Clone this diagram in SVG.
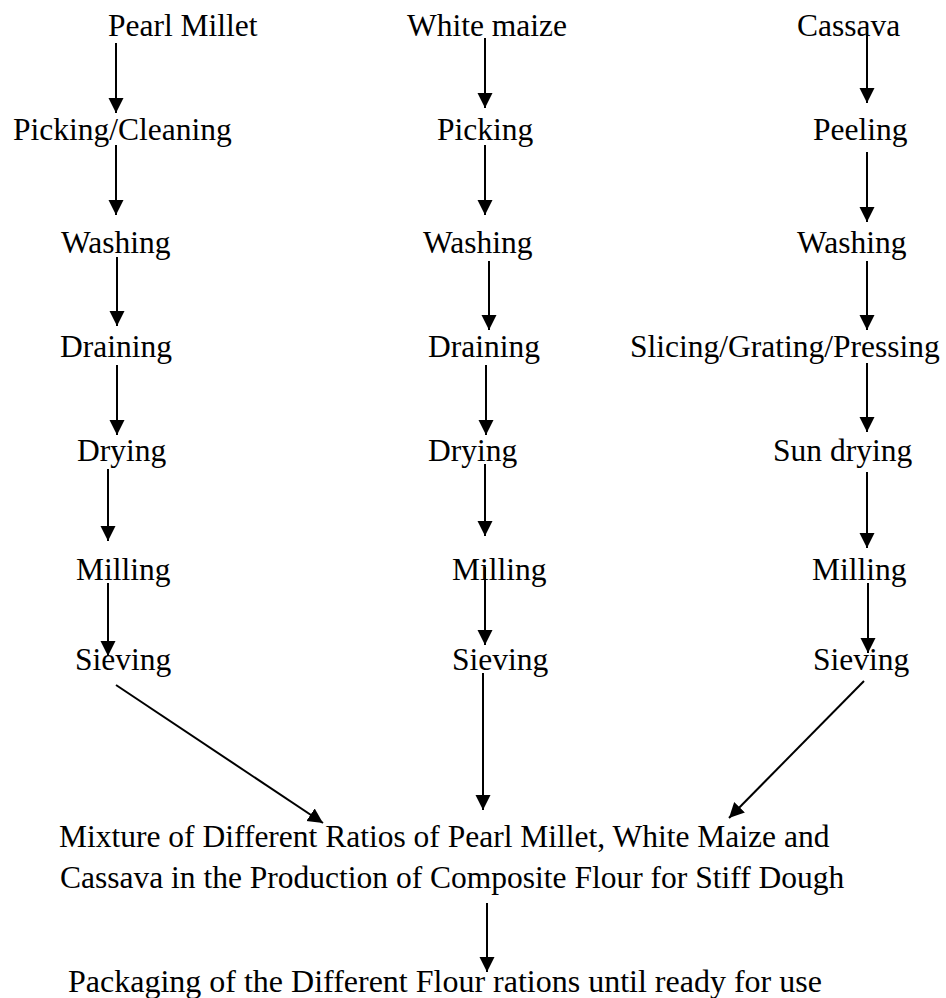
<svg xmlns="http://www.w3.org/2000/svg" width="946" height="998" viewBox="0 0 946 998">
<style>
text{font-family:"Liberation Serif","Times New Roman",serif;font-size:31.5px;fill:#000}
.big{font-size:32px}
.c line{stroke:#000;stroke-width:2;marker-end:url(#ah)}
</style>
<defs>
<marker id="ah" markerUnits="userSpaceOnUse" markerWidth="16" markerHeight="16" refX="15" refY="7.5" orient="auto">
<path d="M0,0 L15,7.5 L0,15 z" fill="#000"/>
</marker>
</defs>
<rect width="946" height="998" fill="#fff"/>
<g id="n-pearl-millet"><text x="108" y="36">Pearl Millet</text></g>
<g id="n-white-maize"><text x="407" y="36">White maize</text></g>
<g id="n-cassava"><text x="797" y="36">Cassava</text></g>
<g id="n-pm-picking"><text x="13" y="140">Picking/Cleaning</text></g>
<g id="n-wm-picking"><text x="437" y="140">Picking</text></g>
<g id="n-cs-peeling"><text x="813" y="140">Peeling</text></g>
<g id="n-pm-washing"><text x="61" y="253">Washing</text></g>
<g id="n-wm-washing"><text x="423" y="253">Washing</text></g>
<g id="n-cs-washing"><text x="797" y="253">Washing</text></g>
<g id="n-pm-draining"><text x="60" y="357">Draining</text></g>
<g id="n-wm-draining"><text x="428" y="357">Draining</text></g>
<g id="n-cs-slicing"><text x="630" y="357">Slicing/Grating/Pressing</text></g>
<g id="n-pm-drying"><text x="77" y="461">Drying</text></g>
<g id="n-wm-drying"><text x="428" y="461">Drying</text></g>
<g id="n-cs-sundrying"><text x="773" y="461">Sun drying</text></g>
<g id="n-pm-milling"><text x="76" y="580">Milling</text></g>
<g id="n-wm-milling"><text x="452" y="580">Milling</text></g>
<g id="n-cs-milling"><text x="812" y="580">Milling</text></g>
<g id="n-pm-sieving"><text x="75" y="670">Sieving</text></g>
<g id="n-wm-sieving"><text x="452" y="670">Sieving</text></g>
<g id="n-cs-sieving"><text x="813" y="670">Sieving</text></g>
<g id="n-mixture"><text x="59" y="847">Mixture of Different Ratios of Pearl Millet, White Maize and</text><text x="60" y="888">Cassava in the Production of Composite Flour for Stiff Dough</text></g>
<g id="n-packaging"><text class="big" x="68" y="992">Packaging of the Different Flour rations until ready for use</text></g>
<g id="connectors" class="c">
<line x1="116" y1="43" x2="116" y2="113"/>
<line x1="116" y1="145" x2="116" y2="215"/>
<line x1="117" y1="257" x2="117" y2="326"/>
<line x1="117" y1="365" x2="117" y2="435"/>
<line x1="108" y1="469" x2="108" y2="541"/>
<line x1="108" y1="583" x2="108" y2="656"/>
<line x1="116" y1="685" x2="323" y2="823"/>
<line x1="485" y1="38" x2="485" y2="108"/>
<line x1="485" y1="145" x2="485" y2="215"/>
<line x1="489" y1="261" x2="489" y2="330"/>
<line x1="486" y1="365" x2="486" y2="435"/>
<line x1="485" y1="464" x2="485" y2="536"/>
<line x1="485" y1="567" x2="485" y2="645"/>
<line x1="483" y1="673" x2="483" y2="810"/>
<line x1="867" y1="32" x2="867" y2="103"/>
<line x1="867" y1="152" x2="867" y2="222"/>
<line x1="867" y1="261" x2="867" y2="330"/>
<line x1="867" y1="363" x2="867" y2="432"/>
<line x1="867" y1="472" x2="867" y2="548"/>
<line x1="868" y1="583" x2="868" y2="653"/>
<line x1="864" y1="681" x2="729" y2="818"/>
<line x1="487" y1="903" x2="487" y2="972"/>
</g>
</svg>
